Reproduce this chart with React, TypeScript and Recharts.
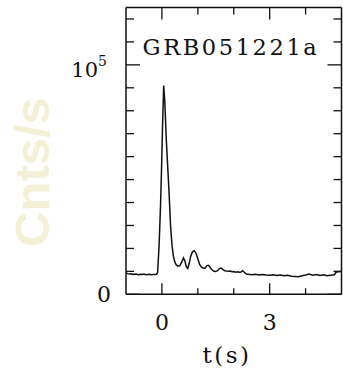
import { LineChart, Line, XAxis, YAxis } from 'recharts';

const times = [
  -1.0, -0.95, -0.9, -0.85, -0.8, -0.75, -0.7, -0.65, -0.6, -0.55, -0.5, -0.45, -0.4, -0.35, -0.3, -0.25, -0.2, -0.15,
  -0.12, -0.08, -0.04, -0.01, 0.02, 0.05, 0.08, 0.12, 0.16, 0.2, 0.24, 0.28, 0.32, 0.36, 0.4, 0.45, 0.5, 0.55, 0.6,
  0.64, 0.68, 0.72, 0.76, 0.8, 0.85, 0.9, 0.95, 1.0, 1.05, 1.1, 1.15, 1.2, 1.25, 1.3, 1.35, 1.4, 1.45, 1.5, 1.55,
  1.6, 1.65, 1.7, 1.75, 1.8, 1.85, 1.9, 1.95, 2.0, 2.05, 2.1, 2.15, 2.2, 2.25, 2.3, 2.35, 2.4, 2.5, 2.6, 2.7, 2.8,
  2.9, 3.0, 3.1, 3.2, 3.3, 3.4, 3.5, 3.6, 3.7, 3.8, 3.9, 4.0, 4.1, 4.2, 4.3, 4.4, 4.5, 4.6, 4.7, 4.8, 4.85, 4.9, 5.0,
];

const counts = [
  9300, 9000, 8800, 8900, 8600, 8800, 8700, 8500, 8700, 8600, 8800, 8500, 8600, 8700, 8500, 8600, 8600, 8700,
  9500, 21000, 38000, 55000, 75000, 91000, 84000, 68000, 56000, 44000, 30000, 21500, 16500, 14000, 12800, 12300, 12500, 14000, 15900,
  14500, 12000, 11300, 13500, 16500, 18500, 19000, 17800, 15500, 13000, 11800, 11500, 11300, 12500, 12600, 11500, 10600, 10000, 9900, 10300,
  11200, 11400, 10800, 10300, 10200, 10000, 10100, 9800, 9900, 9600, 9800, 9600, 9700, 10300, 9500, 8800, 8700, 8500, 8700, 8400, 8600,
  8400, 8300, 8500, 8200, 8400, 8100, 8300, 7900, 7800, 7700, 8100, 8400, 8800, 8300, 8600, 8200, 8500, 8100, 8300, 8500, 9600, 9800, 9900,
];

const xTicks = [0, 1, 2, 3, 4];
const xMajor = [0, 3];
const yTicks = [0, 10000, 20000, 30000, 40000, 50000, 60000, 70000, 80000, 90000, 100000, 110000, 120000];
const yMajor = [0, 100000];

const data = times.map((t, i) => ({ t, c: counts[i] }));

const INK = '#111';
const SERIF = '"DejaVu Serif", "Liberation Serif", serif';

const BottomTick = ({ x, y, payload }: any) => {
  const major = xMajor.includes(payload.value);
  return (
    <g>
      <line x1={x} y1={y} x2={x} y2={y - (major ? 11 : 6)} stroke={INK} strokeWidth={1.3} />
      {major && (
        <text x={x} y={y + 36} textAnchor="middle" fontFamily={SERIF} fontSize={22} fill={INK}>
          {payload.value}
        </text>
      )}
    </g>
  );
};

const TopTick = ({ x, y, payload }: any) => {
  const major = xMajor.includes(payload.value);
  return <line x1={x} y1={y} x2={x} y2={y + (major ? 12 : 7)} stroke={INK} strokeWidth={1.3} />;
};

const LeftTick = ({ x, y, payload }: any) => {
  const v = payload.value;
  const major = yMajor.includes(v);
  return (
    <g>
      <line x1={x} y1={y} x2={x + (major ? 14 : 8)} y2={y} stroke={INK} strokeWidth={1.3} />
      {v === 0 && (
        <text x={x - 15} y={y + 8} textAnchor="end" fontFamily={SERIF} fontSize={22} fill={INK}>0</text>
      )}
      {v === 100000 && (
        <text x={x - 19} y={y + 12} textAnchor="end" fontFamily={SERIF} fontSize={21} fill={INK}>
          10<tspan fontSize={14} dy={-11}>5</tspan>
        </text>
      )}
    </g>
  );
};

const RightTick = ({ x, y, payload }: any) => {
  const major = yMajor.includes(payload.value);
  return <line x1={x} y1={y} x2={x - (major ? 14 : 8)} y2={y} stroke={INK} strokeWidth={1.3} />;
};

export default function App() {
  return (
    <div style={{ position: 'absolute', left: 0, top: 0, background: '#fff' }}>
      <LineChart width={343} height={373} data={data} margin={{ top: 6.5, right: 0.5, bottom: 77.7, left: 125 }}>
        <XAxis
          dataKey="t"
          type="number"
          domain={[-1, 5]}
          ticks={xTicks}
          interval={0}
          height={1}
          tickSize={0}
          tickMargin={0}
          tickLine={false}
          axisLine={{ stroke: INK, strokeWidth: 1.5 }}
          tick={<BottomTick />}
          allowDataOverflow
        />
        <XAxis
          xAxisId="top"
          orientation="top"
          dataKey="t"
          type="number"
          domain={[-1, 5]}
          ticks={xTicks}
          interval={0}
          height={1}
          tickSize={0}
          tickMargin={0}
          tickLine={false}
          axisLine={{ stroke: INK, strokeWidth: 1.5 }}
          tick={<TopTick />}
          allowDataOverflow
        />
        <YAxis
          type="number"
          domain={[0, 125000]}
          ticks={yTicks}
          interval={0}
          width={1}
          tickSize={0}
          tickMargin={0}
          tickLine={false}
          axisLine={{ stroke: INK, strokeWidth: 1.5 }}
          tick={<LeftTick />}
          allowDataOverflow
        />
        <YAxis
          yAxisId="right"
          orientation="right"
          type="number"
          domain={[0, 125000]}
          ticks={yTicks}
          interval={0}
          width={1}
          tickSize={0}
          tickMargin={0}
          tickLine={false}
          axisLine={{ stroke: INK, strokeWidth: 1.5 }}
          tick={<RightTick />}
          allowDataOverflow
        />
        <Line type="linear" dataKey="c" stroke={INK} strokeWidth={1.5} dot={false} isAnimationActive={false} />
        <text x={231} y={55} textAnchor="middle" fontFamily={SERIF} fontSize={22.5} letterSpacing={2.6} fill={INK}>
          GRB051221a
        </text>
        <text x={227} y={363} textAnchor="middle" fontFamily={SERIF} fontSize={23} letterSpacing={2.5} fill={INK}>
          t(s)
        </text>
        <text
          x={49}
          y={172}
          transform="rotate(-90 49 172)"
          textAnchor="middle"
          fontFamily='"Liberation Sans", Arial, sans-serif'
          fontWeight="bold"
          fontSize={49}
          fill="#f3f0d6"
        >
          Cnts/s
        </text>
      </LineChart>
    </div>
  );
}
